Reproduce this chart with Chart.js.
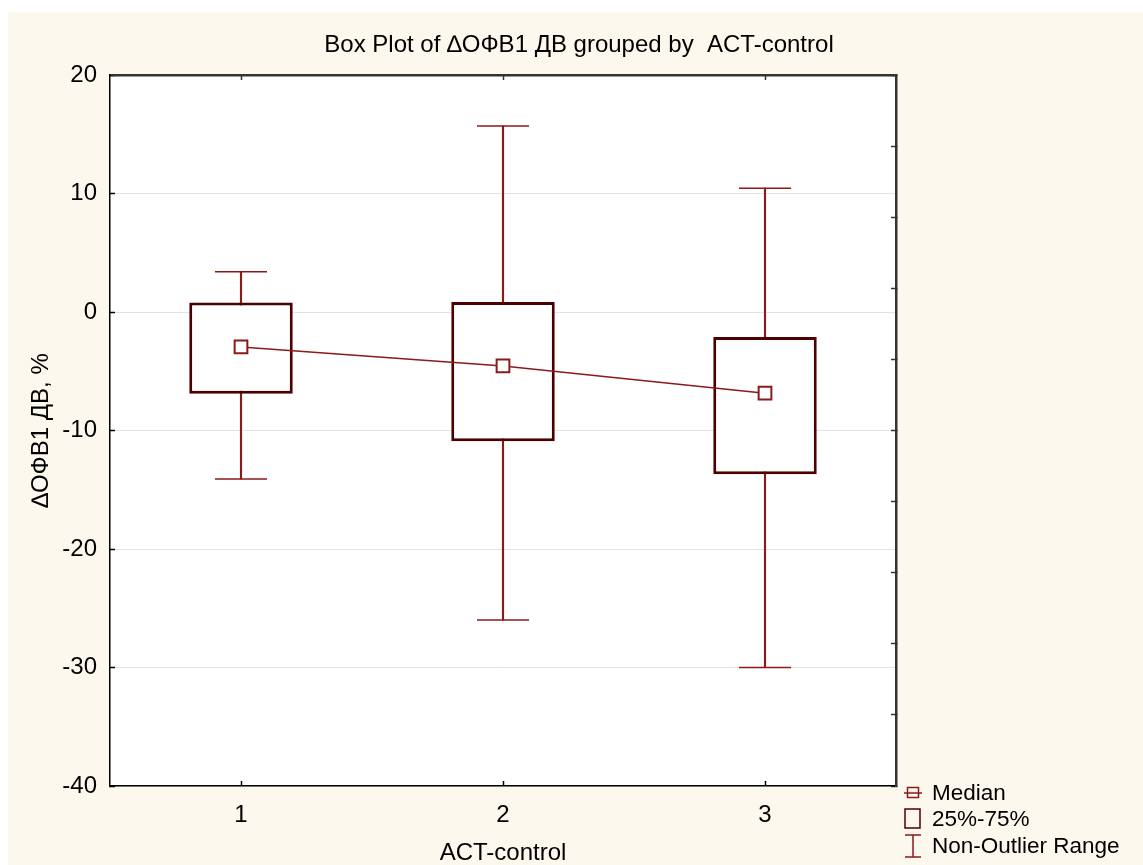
<!DOCTYPE html>
<html><head><meta charset="utf-8">
<script src="https://cdn.jsdelivr.net/npm/chart.js@4.4.1/dist/chart.umd.min.js"></script>
<style>html,body{margin:0;padding:0;background:#fff;overflow:hidden}</style>
</head><body>
<canvas id="c" width="1143" height="865"></canvas>
<script>
const categories = ['1', '2', '3'];
const medians = [-2.95, -4.55, -6.85];
const q1 = [-6.9, -10.9, -13.7];
const q3 = [0.8, 0.85, -2.1];
const whiskerMin = [-14.1, -26.0, -30.0];
const whiskerMax = [3.4, 15.7, 10.45];
const yMin = -40, yMax = 20, yStep = 10;
const rightTicks = [20, 14, 8, 2, -4, -10, -16, -22, -28, -34, -40];
const titleText = 'Box Plot of \u2206\u041e\u0424\u04121 \u0414\u0412 grouped by  ACT-control';
const xTitle = 'ACT-control';
const yTitle = '\u2206\u041e\u0424\u04121 \u0414\u0412, %';
const legendLabels = ['Median', '25%-75%', 'Non-Outlier Range'];

const FONT = '"Liberation Sans", Arial, sans-serif';
const WHISK = '#8B1A1A';
const BOX = '#4D0000';
const CREAM = '#fdf8ee';

const bgPlugin = {
  id: 'bg',
  beforeDraw(chart) {
    const ctx = chart.ctx, w = chart.width, h = chart.height, a = chart.chartArea;
    ctx.save();
    ctx.fillStyle = '#fff'; ctx.fillRect(0, 0, w, h);
    ctx.fillStyle = CREAM; ctx.fillRect(8, 12, w - 8, h - 12);
    ctx.fillStyle = '#fff'; ctx.fillRect(a.left, a.top, a.right - a.left, a.bottom - a.top);
    ctx.restore();
  }
};

const legendPlugin = {
  id: 'customLegend',
  afterDraw(chart) {
    const ctx = chart.ctx;
    ctx.save();
    const ix = 913, tx = 932;
    const ys = [793, 819, 846];
    ctx.strokeStyle = WHISK; ctx.lineWidth = 1.5;
    ctx.strokeRect(907.5, ys[0] - 5.5, 11, 10);
    ctx.beginPath(); ctx.moveTo(904, ys[0]); ctx.lineTo(922, ys[0]); ctx.stroke();
    ctx.strokeStyle = BOX; ctx.lineWidth = 1.5;
    ctx.strokeRect(905, ys[1] - 10, 15, 19);
    ctx.strokeStyle = WHISK; ctx.lineWidth = 1.5;
    ctx.beginPath();
    ctx.moveTo(905, ys[2] - 11); ctx.lineTo(921, ys[2] - 11);
    ctx.moveTo(ix, ys[2] - 11); ctx.lineTo(ix, ys[2] + 11);
    ctx.moveTo(905, ys[2] + 11); ctx.lineTo(921, ys[2] + 11);
    ctx.stroke();
    ctx.fillStyle = '#000'; ctx.font = '22.5px ' + FONT;
    ctx.textAlign = 'left'; ctx.textBaseline = 'middle';
    legendLabels.forEach((t, i) => ctx.fillText(t, tx, ys[i] + 1));
    ctx.restore();
  }
};

new Chart(document.getElementById('c'), {
  type: 'bar',
  data: {
    labels: categories,
    datasets: [
      {
        type: 'line', label: 'Median', data: medians,
        borderColor: WHISK, borderWidth: 1.5,
        pointStyle: 'rect', pointRadius: 9, pointBorderWidth: 2,
        pointBackgroundColor: '#fff', pointBorderColor: WHISK, order: 0
      },
      {
        type: 'line', label: 'capMax', data: whiskerMax, showLine: false,
        pointStyle: 'line', pointRadius: 26, pointBorderWidth: 1.5,
        pointBorderColor: WHISK, borderColor: WHISK, order: 1
      },
      {
        type: 'line', label: 'capMin', data: whiskerMin, showLine: false,
        pointStyle: 'line', pointRadius: 26, pointBorderWidth: 1.5,
        pointBorderColor: WHISK, borderColor: WHISK, order: 1
      },
      {
        type: 'bar', label: '25%-75%', data: q1.map((v, i) => [v, q3[i]]),
        backgroundColor: '#fff', borderColor: BOX, borderWidth: 3, borderSkipped: false,
        barPercentage: 0.395, categoryPercentage: 1, grouped: false, order: 2
      },
      {
        type: 'bar', label: 'Non-Outlier Range', data: whiskerMin.map((v, i) => [v, whiskerMax[i]]),
        backgroundColor: WHISK, borderWidth: 0, barThickness: 1.5, grouped: false, order: 3
      }
    ]
  },
  options: {
    responsive: false, animation: false, devicePixelRatio: 1, events: [],
    layout: { padding: { left: 15, right: 0, top: 0, bottom: 0 } },
    plugins: {
      legend: { display: false }, tooltip: { enabled: false },
      title: {
        display: true, text: titleText, color: '#000',
        font: { family: FONT, size: 24, weight: 'normal' },
        padding: { top: 30.6, bottom: 15.6 }
      }
    },
    scales: {
      x: {
        type: 'category', position: 'bottom', offset: true,
        grid: { offset: false, drawOnChartArea: false, drawTicks: true, tickLength: -5, tickColor: '#000', tickWidth: 1.5 },
        border: { color: '#000', width: 1.5 },
        ticks: { color: '#000', font: { family: FONT, size: 24 }, padding: 20 },
        title: { display: true, text: xTitle, color: '#000', font: { family: FONT, size: 24 }, padding: { top: 0, bottom: -3 } },
        afterFit(s) { s.height = 79; }
      },
      x2: {
        type: 'category', position: 'top', offset: true,
        grid: { offset: false, drawOnChartArea: false, drawTicks: true, tickLength: -5, tickColor: '#333', tickWidth: 1.5 },
        border: { color: '#333', width: 2.5 },
        ticks: { display: false },
        afterFit(s) { s.height = 0; }
      },
      y: {
        type: 'linear', position: 'left', min: yMin, max: yMax,
        grid: { color: '#e3e3e3', lineWidth: 1, drawTicks: true, tickLength: -5, tickColor: '#000', tickWidth: 1.5 },
        border: { color: '#000', width: 1.5 },
        ticks: { stepSize: yStep, color: '#000', font: { family: FONT, size: 24 }, padding: 18 },
        title: { display: true, text: yTitle, color: '#000', font: { family: FONT, size: 24 }, padding: { top: 12, bottom: 0 } },
        afterFit(s) { s.width = 95; }
      },
      y2: {
        type: 'linear', position: 'right', min: yMin, max: yMax,
        grid: { drawOnChartArea: false, drawTicks: true, tickLength: -5, tickColor: '#333', tickWidth: 1.5 },
        border: { color: '#333', width: 2.5 },
        ticks: { display: false },
        afterBuildTicks(s) { s.ticks = rightTicks.map(v => ({ value: v })); },
        afterFit(s) { s.width = 247; }
      }
    }
  },
  plugins: [bgPlugin, legendPlugin]
});
</script>
</body></html>
